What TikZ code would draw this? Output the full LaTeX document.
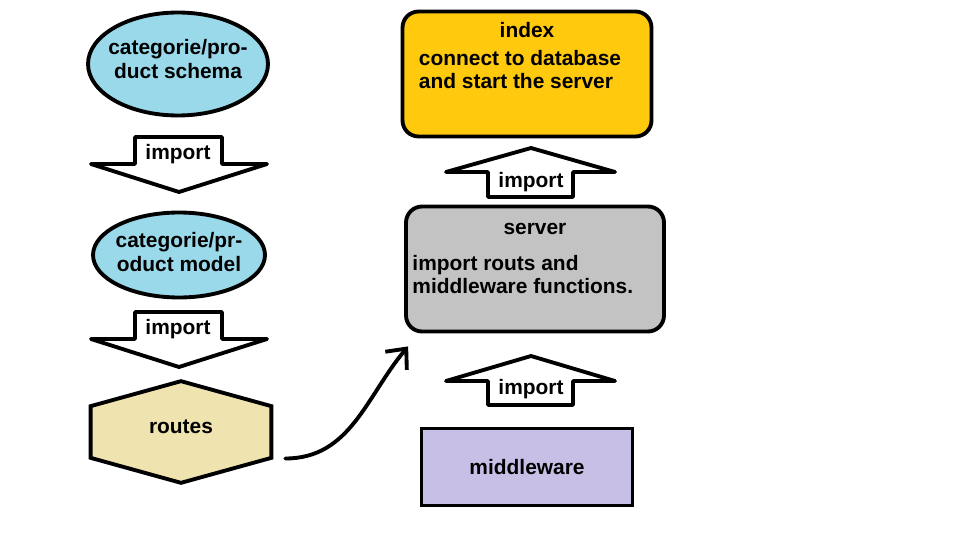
\documentclass[tikz,border=0pt]{standalone}
\usepackage{fontspec}
\setmainfont{Liberation Sans}
\usepackage{tikz}
\usetikzlibrary{positioning}
\usetikzlibrary{arrows.meta}
\usetikzlibrary{shapes.geometric}

\definecolor{schemablue}{HTML}{99D9EA}
\definecolor{routestan}{HTML}{EFE4B0}
\definecolor{indexorange}{HTML}{FFC90E}
\definecolor{servergray}{HTML}{C3C3C3}
\definecolor{middlelilac}{HTML}{C8BFE7}

\tikzset{
  lbl/.style={font=\bfseries\fontsize{11.9}{13.6}\selectfont, inner sep=0pt},
  thickline/.style={draw=black, line width=2.2pt},
  blob/.style={thickline, ellipse, fill=schemablue, inner sep=0pt},
  roundbox/.style={thickline, rounded corners=0.32cm},
  importarrow/.style={thickline, fill=white, line join=round},
}

\begin{document}
\begin{tikzpicture}[x=0.02cm, y=-0.02cm]
            \useasboundingbox (0,0) rectangle (959,547);
            % left column
            \node[blob, minimum width=3.6cm, minimum height=2.06cm] (schema) at (178,64) {};
            \node[lbl, align=center] (schematxt) at ([yshift=0.1cm]schema.center) {categorie/pro-\\duct schema};
            \draw[importarrow] (135,137) -- (222,137) -- (222,164) -- (267,164) -- (179,192) -- (91,164) -- (135,164) -- cycle;
            \node[lbl] (imp1) at (178,154) {import};
            \node[blob, minimum width=3.44cm, minimum height=1.7cm] (model) at (179,255) {};
            \node[lbl, align=center] (modeltxt) at ([yshift=0.06cm]model.center) {categorie/pr-\\oduct model};
            \draw[importarrow] (135,312) -- (222,312) -- (222,339) -- (267,339) -- (179,367) -- (91,339) -- (135,339) -- cycle;
            \node[lbl] (imp2) at (178,329) {import};
            \node[minimum width=3.6cm, minimum height=2.02cm, inner sep=0pt] (routes) at (181,432) {};
            \draw[thickline, fill=routestan] (routes.north) -- ([yshift=-0.5cm]routes.north east) -- ([yshift=0.5cm]routes.south east) -- (routes.south) -- ([yshift=0.5cm]routes.south west) -- ([yshift=-0.5cm]routes.north west) -- cycle;
            \node[lbl] (routestxt) at ([yshift=0.1cm]routes.center) {routes};
            % right column
            \node[roundbox, fill=indexorange, minimum width=4.98cm, minimum height=2.5cm] (index) at (527,74) {};
            \node[lbl, below=0.24cm of index.north] (indextitle) {index};
            \node[lbl, align=left, anchor=north west] (indextxt) at ([shift={(0.36cm,-0.8cm)}]index.north west) {connect to database\\and start the server};
            \draw[importarrow] (531,148) -- (615,172) -- (573,172) -- (573,197) -- (488,197) -- (488,172) -- (446,172) -- cycle;
            \node[lbl] (imp3) at (531,182) {import};
            \node[roundbox, fill=servergray, minimum width=5.16cm, minimum height=2.5cm] (server) at (535,269) {};
            \node[lbl, below=0.36cm of server.north] (servertitle) {server};
            \node[lbl, align=left, anchor=north west] (servertxt) at ([shift={(0.16cm,-1.0cm)}]server.north west) {import routs and\\middleware functions.};
            \draw[importarrow] (531,356) -- (615,381) -- (573,381) -- (573,405) -- (488,405) -- (488,381) -- (446,381) -- cycle;
            \node[lbl] (imp4) at (531,389) {import};
            \node[thickline, fill=middlelilac, lbl, minimum width=4.22cm, minimum height=1.54cm] (middleware) at (527,467) {middleware};
            % routes to server
            \draw[thickline, line cap=round, -{Straight Barb[length=9pt,width=16pt]}] ([shift={(0.28cm,-0.53cm)}]routes.east) to[out=0, in=230] ([shift={(0.08cm,-0.26cm)}]server.south west);
        \end{tikzpicture}
\end{document}
